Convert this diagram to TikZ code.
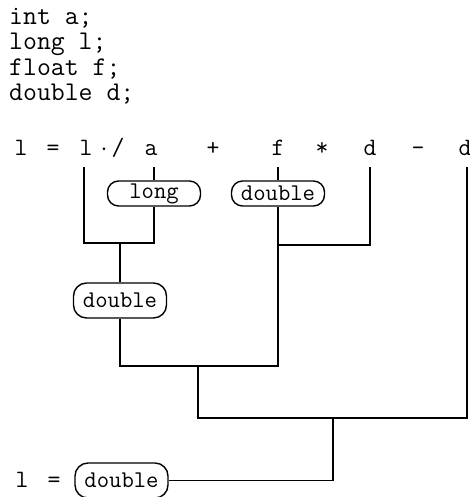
\documentclass[tikz,border=0pt]{standalone}
\usepackage{fontspec}
\begin{document}
\begin{tikzpicture}[x=1pt,y=-1pt,
  decl/.style={font=\ttfamily\fontsize{27}{31}\selectfont, anchor=base west, inner sep=0},
  tok/.style={font=\ttfamily\fontsize{25}{29}\selectfont, anchor=base, inner sep=0},
  typebox/.style={draw, line width=1.4pt, rounded corners=11pt, inner sep=0,
    font=\ttfamily\fontsize{24}{28}\selectfont, minimum width=93pt, minimum height=25pt},
  tallbox/.style={typebox, rounded corners=13pt, minimum height=35pt},
  wire/.style={line width=1.4pt}]
\useasboundingbox (0,0) rectangle (470,497);

% declarations
\node[decl] (d1) at (9,24.5) {int a;};
\node[decl] (d2) at (9,50) {long l;};
\node[decl] (d3) at (9,75.5) {float f;};
\node[decl] (d4) at (9,101) {double d;};

% the expression, token by token
\node[tok] (lhs) at (21,155) {l};
\node[tok] (eq)  at (53,155) {=};
\node[tok] (tl)  at (86,155) {l};
\node[tok] (dot) at (104,155) {$\cdot$};
\node[tok] (div) at (118,155) {/};
\node[tok] (ta)  at (151,155) {a};
\node[tok] (pl)  at (213,155) {+};
\node[tok] (tf)  at (278,155) {f};
\node[tok] (mul) at (322,155) {*};
\node[tok] (td1) at (370,155) {d};
\node[tok] (mi)  at (418,155) {-};
\node[tok] (td2) at (465,155) {d};

% conversion boxes
\node[typebox] (long) at (154,193.5) {long};
\node[typebox] (dbl1) at (278,193.5) {double};
\node[tallbox] (dbl2) at (120,300.5) {double};
\node[tallbox] (dbl3) at (121.5,480.5) {double};

% result line
\node[tok] (rl)  at (22,487) {l};
\node[tok] (req) at (54,487) {=};

% wire ends under the tokens
\coordinate (sl)  at (84,167);
\coordinate (sa)  at (154,167);
\coordinate (sf)  at (278,167);
\coordinate (sd1) at (370,167);
\coordinate (sd2) at (467,167);

% junctions
\coordinate (j1) at (120,243);
\coordinate (j2) at (278,245);
\coordinate (j3) at (198,366);
\coordinate (j4) at (333,418);

% l / a
\draw[wire] (sa) -- (long.north);
\draw[wire] (sl) |- (j1) -| (long.south);
\draw[wire] (j1) -- (dbl2.north);
% f * d
\draw[wire] (sf) -- (dbl1.north);
\draw[wire] (dbl1.south) -- (j2);
\draw[wire] (sd1) |- (j2);
% (l/a) + (f*d)
\draw[wire] (dbl2.south) |- (j3) -| (j2);
% ... - d
\draw[wire] (j3) |- (j4) -| (sd2);
% assignment
\draw[wire] (j4) |- (dbl3.east);
\end{tikzpicture}
\end{document}
